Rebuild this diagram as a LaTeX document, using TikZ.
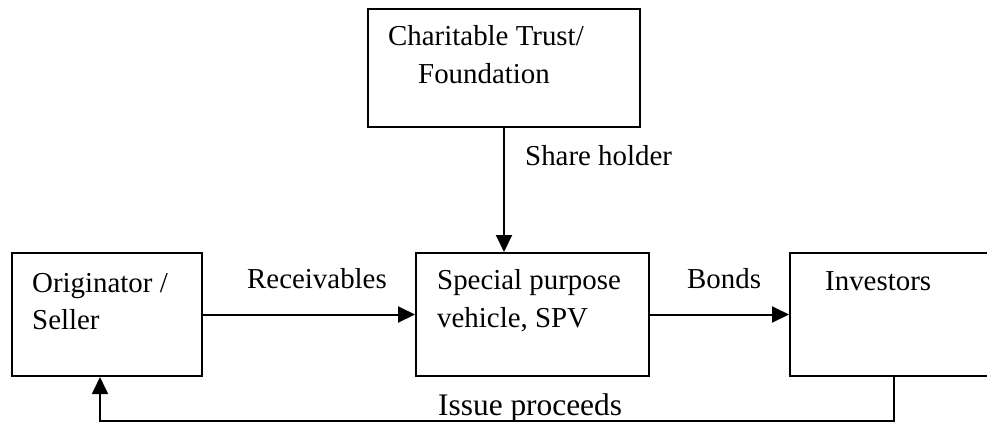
\documentclass[tikz,border=0pt]{standalone}
\usepackage{fontspec}
\setmainfont{Liberation Serif}
\usetikzlibrary{arrows.meta}
\begin{document}
\begin{tikzpicture}[x=1bp,y=-1bp,
  box/.style={draw, line width=2bp, rectangle, anchor=north west, inner sep=0pt},
  lbl/.style={anchor=base west, inner sep=0pt, font=\fontsize{29}{35}\selectfont},
  arr/.style={line width=2bp, -{Triangle[length=17bp,width=16bp]}},
]
\useasboundingbox (0,0) rectangle (987,423);
\clip (0,0) rectangle (987,423);

% boxes
\node[box, minimum width=272bp, minimum height=118bp] (trust) at (367,8) {};
\node[box, minimum width=190bp, minimum height=123bp] (orig) at (11,252) {};
\node[box, minimum width=233bp, minimum height=123bp] (spv) at (415,252) {};
\node[box, minimum width=208bp, minimum height=123bp] (inv) at (789,252) {};

% box texts
\node[lbl] (t1) at (388,45) {Charitable Trust/};
\node[lbl] (t2) at (418,83) {Foundation};
\node[lbl] (o1) at (32,292) {Originator /};
\node[lbl] (o2) at (32,329) {Seller};
\node[lbl] (s1) at (437,289) {Special purpose};
\node[lbl] (s2) at (437,327) {vehicle, SPV};
\node[lbl] (i1) at (825,290) {Investors};

% connector labels
\node[lbl] (lrec) at (247,288) {Receivables};
\node[lbl] (lbond) at (687,288) {Bonds};
\node[lbl] (lshare) at (525,165) {Share holder};
\node[lbl, font=\fontsize{31.5}{38}\selectfont] (liss) at (438,415) {Issue proceeds};

% connectors
\draw[arr] (trust.south) -- (trust.south |- spv.north);
\draw[arr] (orig.east) -- (spv.west);
\draw[arr] (spv.east) -- (inv.west);
\coordinate (ret) at (100,421);
\draw[arr, line width=1.6bp] (inv.south) |- (ret) -- (ret |- orig.south);
\end{tikzpicture}
\end{document}
